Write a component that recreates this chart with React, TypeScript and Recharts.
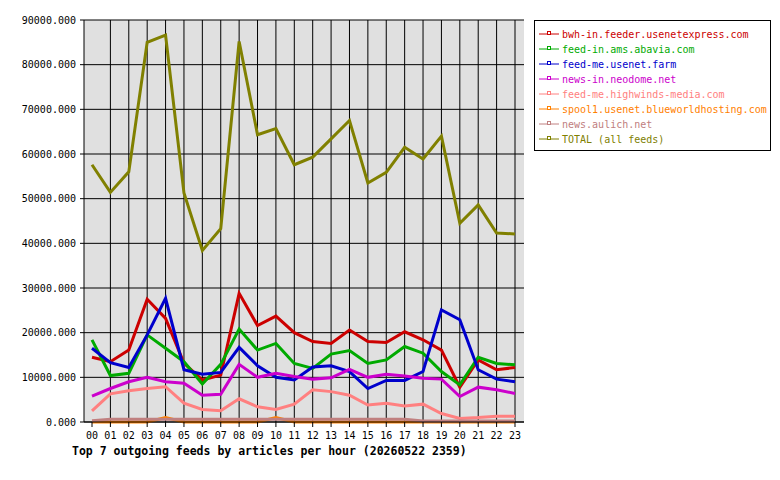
import { LineChart, Line, XAxis, YAxis, CartesianGrid } from 'recharts';

const hours = ['00', '01', '02', '03', '04', '05', '06', '07', '08', '09', '10', '11', '12', '13', '14', '15', '16', '17', '18', '19', '20', '21', '22', '23'];

const bwhIn = [14500, 13500, 16100, 27500, 23200, 13200, 9400, 10500, 28800, 21600, 23700, 20000, 18000, 17600, 20600, 18000, 17800, 20200, 18400, 16100, 7800, 13900, 11700, 12200];
const abavia = [18400, 10400, 10900, 19500, 16500, 13500, 8500, 12900, 20800, 16100, 17600, 13100, 12000, 15200, 16000, 13100, 13900, 16900, 15400, 11300, 8300, 14500, 13100, 12800];
const usenetFarm = [16500, 13300, 12200, 19500, 27700, 11700, 10700, 11100, 16700, 12600, 10000, 9400, 12300, 12600, 11300, 7500, 9300, 9300, 11300, 25100, 22900, 11700, 9600, 9000];
const neodome = [5800, 7500, 9000, 10000, 9000, 8700, 6000, 6200, 12900, 10000, 10900, 10200, 9600, 9900, 11800, 10000, 10700, 10300, 9800, 9600, 5700, 7800, 7200, 6400];
const highwinds = [2500, 6300, 7000, 7500, 7900, 4200, 2800, 2500, 5200, 3400, 2800, 4000, 7200, 6800, 6000, 3800, 4200, 3600, 4000, 1900, 800, 1000, 1300, 1300];
const spool1 = [0, 0, 0, 0, 1000, 0, 0, 0, 0, 0, 1000, 0, 0, 0, 0, 0, 0, 0, 0, 0, 0, 0, 0, 0];
const aulich = [300, 600, 600, 600, 600, 600, 600, 600, 600, 600, 600, 600, 600, 600, 600, 600, 600, 600, 250, 250, 250, 250, 250, 250];
const total = [57600, 51400, 56000, 85000, 86600, 51300, 38400, 43300, 85200, 64300, 65700, 57600, 59300, 63400, 67500, 53500, 55900, 61500, 58900, 64000, 44500, 48600, 42300, 42100];

const yTicks = [0, 10000, 20000, 30000, 40000, 50000, 60000, 70000, 80000, 90000];

const feeds = [
  { key: 'bwh', name: 'bwh-in.feeder.usenetexpress.com', color: '#cc0000', values: bwhIn },
  { key: 'abavia', name: 'feed-in.ams.abavia.com', color: '#00aa00', values: abavia },
  { key: 'farm', name: 'feed-me.usenet.farm', color: '#0000cc', values: usenetFarm },
  { key: 'neodome', name: 'news-in.neodome.net', color: '#cc00cc', values: neodome },
  { key: 'highwinds', name: 'feed-me.highwinds-media.com', color: '#ff8080', values: highwinds },
  { key: 'spool1', name: 'spool1.usenet.blueworldhosting.com', color: '#ff8000', values: spool1 },
  { key: 'aulich', name: 'news.aulich.net', color: '#c08080', values: aulich },
  { key: 'total', name: 'TOTAL (all feeds)', color: '#808000', values: total },
];

const chartData = hours.map((h, i) => {
  const row: Record<string, string | number> = { hour: h };
  feeds.forEach((f) => {
    row[f.key] = f.values[i];
  });
  return row;
});

const mono = "'DejaVu Sans Mono', monospace";

export default function App() {
  return (
    <div style={{ position: 'absolute', left: 0, top: 0, width: 780, height: 480, background: '#fff' }}>
      <LineChart width={780} height={480} data={chartData} margin={{ top: 20, right: 256, bottom: 0, left: 0 }}>
        <CartesianGrid
          fill="#e0e0e0"
          fillOpacity={1}
          stroke="#000000"
          strokeWidth={1}
          verticalValues={hours.slice(1)}
        />
        <XAxis
          dataKey="hour"
          height={58}
          padding={{ left: 8, right: 9 }}
          interval={0}
          tickSize={5}
          tickMargin={5}
          stroke="#000000"
          tick={{ fill: '#000000', fontSize: 10, fontFamily: mono }}
          tickLine={{ stroke: '#000000' }}
          axisLine={{ stroke: '#000000' }}
        />
        <YAxis
          width={84}
          domain={[0, 90000]}
          ticks={yTicks}
          interval={0}
          tickSize={4}
          tickMargin={4}
          tickFormatter={(v: number) => v.toFixed(3)}
          tick={{ fill: '#000000', fontSize: 10, fontFamily: mono }}
          tickLine={{ stroke: '#000000' }}
          axisLine={{ stroke: '#000000' }}
        />
        <YAxis yAxisId="right" orientation="right" width={0} tick={false} tickLine={false} axisLine={{ stroke: '#000000' }} />
        {feeds.map((f) => (
          <Line
            key={f.key}
            dataKey={f.key}
            type="linear"
            stroke={f.color}
            strokeWidth={3}
            dot={false}
            isAnimationActive={false}
          />
        ))}
      </LineChart>

      {/* legend box */}
      <div
        style={{
          position: 'absolute',
          left: 534,
          top: 20,
          width: 237,
          height: 131,
          border: '1px solid #000',
          boxSizing: 'border-box',
          background: '#fff',
        }}
      >
        {feeds.map((f, i) => (
          <div
            key={f.key}
            style={{ position: 'absolute', left: 3, top: 6 + i * 15, height: 14, display: 'flex', alignItems: 'center' }}
          >
            <svg width={22} height={14}>
              <line x1={1} y1={7} x2={21} y2={7} stroke={f.color} strokeWidth={1} />
              <rect x={9.5} y={4.5} width={3} height={3} fill="#fff" stroke={f.color} strokeWidth={1} />
            </svg>
            <span style={{ marginLeft: 2, fontFamily: mono, fontSize: 10, color: f.color, whiteSpace: 'nowrap' }}>{f.name}</span>
          </div>
        ))}
      </div>

      <div
        style={{
          position: 'absolute',
          left: 72,
          top: 444,
          fontFamily: mono,
          fontSize: 11.5,
          fontWeight: 'bold',
          color: '#000',
          whiteSpace: 'nowrap',
        }}
      >
        Top 7 outgoing feeds by articles per hour (20260522 2359)
      </div>
    </div>
  );
}
